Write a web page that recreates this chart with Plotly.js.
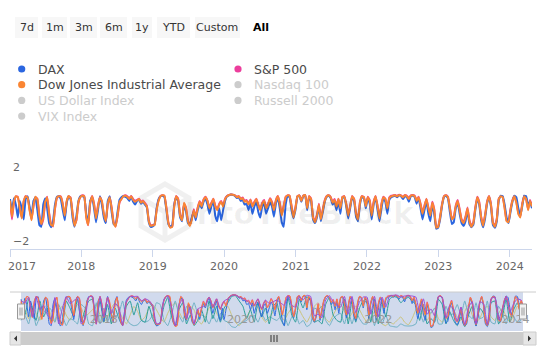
<!DOCTYPE html>
<html><head><meta charset="utf-8">
<script src="https://cdn.plot.ly/plotly-3.0.1.min.js"></script>
<style>html,body{margin:0;padding:0;background:#fff}#chart{width:546px;height:350px}</style>
</head><body><div id="chart"></div>
<script>
// ---- data (10-day samples from 2017-01-01) ----
const dow = [
0.62,-0.25,0.55,0.85,0.80,0.20,-0.35,0.60,0.85,0.78,0.10,-0.45,0.35,0.82,0.70,-0.20,-0.65,-0.30,0.55,0.80,-0.10,-0.70,-0.75,0.20,0.78,0.85,0.82,0.40,-0.20,0.60,0.86,0.75,-0.10,-0.75,-0.40,0.55,0.80,
0.88,0.85,-0.30,-0.70,0.50,0.85,0.40,-0.35,0.30,0.80,0.60,-0.10,-0.50,0.45,0.80,0.20,-0.60,-0.80,-0.20,0.55,0.70,0.85,0.88,0.82,0.70,0.85,0.65,0.55,0.62,0.70,0.50,0.60,0.45,0.30,-0.50,-0.75,
-0.72,-0.70,0.10,0.60,0.85,0.90,0.88,0.20,-0.60,-0.85,-0.80,0.30,0.85,0.70,-0.20,-0.45,0.50,0.20,-0.50,-0.75,-0.40,0.10,-0.30,0.20,0.55,0.30,0.65,0.80,0.60,0.20,0.45,0.70,0.30,0.10,0.40,0.55,0.30,
0.70,0.85,0.92,0.95,0.93,0.90,0.80,0.85,0.70,0.75,0.55,0.60,0.40,0.65,0.30,0.50,0.70,0.35,0.10,0.45,0.60,0.20,0.40,0.70,0.50,0.10,0.60,0.85,0.45,-0.20,0.30,0.80,0.90,0.88,0.30,-0.30,0.20,
0.85,0.90,0.60,0.88,0.92,0.20,0.85,0.70,-0.30,-0.55,-0.20,0.40,-0.40,0.10,0.60,0.85,0.90,0.80,0.50,0.65,0.30,0.70,0.20,0.80,0.85,0.40,-0.20,0.30,0.85,0.70,-0.10,-0.40,0.50,0.85,0.80,0.30,
0.80,0.60,-0.20,0.50,0.85,0.30,-0.35,0.40,0.80,0.70,0.20,0.75,0.85,0.88,0.90,0.85,0.92,0.88,0.80,0.90,0.85,0.70,0.88,0.90,0.85,0.60,0.80,0.40,-0.10,0.30,0.70,0.20,-0.20,0.50,0.10,-0.85,-0.80,
-0.30,0.40,0.85,0.90,0.80,0.20,-0.40,-0.30,0.30,0.60,0.10,-0.45,-0.60,-0.30,0.20,-0.50,-0.80,-0.60,0.20,0.80,0.50,-0.30,-0.75,-0.20,0.50,0.85,0.40,-0.60,-0.80,-0.40,0.70,0.85,0.80,0.20,-0.50,-0.55,
0.10,0.60,0.85,0.50,-0.10,-0.30,0.40,0.85,0.70,0.10,0.60,0.30];
const sp500 = [
0.55,-0.40,0.50,0.85,0.82,0.25,-0.30,0.55,0.86,0.80,0.15,-0.40,0.30,0.80,0.72,-0.15,-0.70,-0.40,0.50,0.82,-0.05,-0.65,-0.78,0.15,0.75,0.86,0.84,0.45,-0.25,0.55,0.85,0.78,-0.05,-0.70,-0.45,0.50,0.82,
0.90,0.86,-0.25,-0.72,0.45,0.86,0.45,-0.30,0.35,0.82,0.55,-0.15,-0.55,0.40,0.82,0.25,-0.55,-0.78,-0.25,0.50,0.72,0.86,0.90,0.85,0.75,0.86,0.70,0.60,0.65,0.72,0.55,0.62,0.50,0.35,-0.45,-0.72,
-0.70,-0.65,0.15,0.65,0.86,0.90,0.86,0.25,-0.55,-0.82,-0.78,0.35,0.86,0.72,-0.15,-0.40,0.45,0.25,-0.45,-0.72,-0.35,0.15,-0.25,0.25,0.60,0.35,0.68,0.82,0.62,0.25,0.50,0.72,0.35,0.15,0.45,0.60,0.35,
0.72,0.86,0.92,0.95,0.94,0.90,0.82,0.86,0.72,0.78,0.60,0.65,0.45,0.68,0.35,0.55,0.72,0.40,0.15,0.50,0.65,0.25,0.45,0.75,0.55,0.15,0.65,0.86,0.50,-0.15,0.35,0.82,0.90,0.88,0.35,-0.25,0.25,
0.86,0.90,0.65,0.88,0.92,0.25,0.86,0.72,-0.25,-0.50,-0.15,0.45,-0.35,0.15,0.65,0.86,0.90,0.82,0.55,0.70,0.35,0.72,0.25,0.82,0.86,0.45,-0.15,0.35,0.86,0.72,-0.05,-0.35,0.55,0.86,0.82,0.35,
0.82,0.65,-0.15,0.55,0.86,0.35,-0.30,0.45,0.82,0.72,0.25,0.78,0.88,0.90,0.92,0.88,0.93,0.90,0.82,0.92,0.88,0.75,0.90,0.92,0.88,0.65,0.82,0.45,-0.05,0.35,0.72,0.25,-0.15,0.55,0.15,-0.82,-0.78,
-0.25,0.45,0.86,0.90,0.82,0.25,-0.35,-0.25,0.35,0.65,0.15,-0.40,-0.55,-0.25,0.25,-0.45,-0.75,-0.55,0.25,0.82,0.55,-0.25,-0.70,-0.15,0.55,0.86,0.45,-0.55,-0.75,-0.35,0.72,0.86,0.82,0.25,-0.45,-0.50,
0.15,0.65,0.86,0.55,-0.05,-0.25,0.45,0.86,0.72,0.15,0.65,0.35];
const dax = [
0.70,0.10,0.75,0.40,-0.30,0.60,0.20,-0.40,0.70,0.85,0.30,-0.20,0.60,0.80,0.10,-0.70,-0.80,0.40,0.75,0.20,-0.60,-0.82,-0.50,0.40,0.82,0.85,0.70,0.10,-0.45,0.50,0.85,0.70,-0.30,-0.80,-0.20,0.60,0.85,
0.85,0.80,-0.10,-0.60,0.60,0.80,0.20,-0.55,0.10,0.85,0.40,-0.30,-0.60,0.60,0.85,0.00,-0.65,-0.70,0.00,0.65,0.80,0.85,0.82,0.75,0.60,0.82,0.55,0.40,0.60,0.65,0.45,0.55,0.40,0.25,-0.55,-0.80,
-0.78,-0.65,0.20,0.70,0.85,0.88,0.80,0.10,-0.65,-0.80,-0.70,0.40,0.80,0.60,-0.30,-0.50,0.40,0.05,-0.60,-0.70,-0.30,0.00,-0.45,0.10,0.45,0.20,0.55,0.75,0.40,-0.10,0.30,0.60,-0.20,-0.50,0.20,-0.45,0.10,
0.60,0.85,0.90,0.94,0.92,0.88,0.75,0.80,0.60,0.65,0.40,0.45,0.10,0.50,-0.10,0.30,0.55,0.00,-0.30,0.30,0.45,-0.10,0.20,0.55,0.30,-0.25,0.45,0.80,0.20,-0.55,-0.80,0.40,0.85,0.80,0.10,-0.35,0.10,
0.82,0.88,0.55,0.85,0.90,0.10,0.80,0.60,-0.40,-0.60,-0.30,0.30,-0.50,0.00,0.55,0.82,0.88,0.75,0.40,0.55,0.10,0.60,-0.10,0.75,0.82,0.30,-0.35,0.20,0.80,0.60,-0.25,-0.50,0.40,0.80,0.75,0.20,
0.75,0.45,-0.40,0.40,0.80,0.10,-0.50,0.20,0.75,0.55,-0.10,0.65,0.80,0.85,0.88,0.80,0.90,0.85,0.70,0.85,0.80,0.55,0.85,0.88,0.80,0.45,0.75,0.20,-0.40,0.10,0.60,-0.10,-0.50,0.40,-0.10,-0.90,-0.85,
-0.40,0.35,0.82,0.88,0.75,0.00,-0.65,-0.55,0.20,0.50,-0.10,-0.60,-0.75,-0.50,0.10,-0.65,-0.82,-0.70,0.10,0.75,0.40,-0.45,-0.82,-0.35,0.45,0.82,0.30,-0.70,-0.85,-0.50,0.65,0.88,0.85,0.40,-0.30,-0.60,
0.00,0.55,0.88,0.80,0.20,-0.20,0.30,0.88,0.85,0.40,0.55,0.20];
// hidden series (20-day samples), shown only in navigator
const nasdaq = [
0.60,0.50,0.80,-0.30,0.85,0.10,0.35,-0.20,-0.40,0.80,-0.70,0.20,0.85,0.45,0.60,0.80,-0.70,-0.40,0.82,
0.86,-0.70,0.85,-0.30,0.80,-0.10,0.45,0.25,-0.80,0.55,0.86,0.85,0.86,0.60,0.72,0.62,0.35,-0.70,
-0.65,0.65,0.90,0.25,-0.82,0.35,0.72,-0.40,0.25,-0.72,0.15,0.25,0.35,0.82,0.25,0.72,0.15,0.60,
0.72,0.92,0.94,0.82,0.72,0.60,0.45,0.35,0.72,0.15,0.65,0.45,0.55,0.65,0.50,0.35,0.90,0.35,0.25,
0.86,0.65,0.92,0.86,-0.25,-0.15,-0.35,0.65,0.90,0.55,0.35,0.25,0.86,-0.15,0.86,-0.05,0.55,0.82,
0.82,-0.15,0.86,-0.30,0.82,0.25,0.88,0.92,0.93,0.82,0.88,0.90,0.88,0.82,-0.05,0.72,-0.15,0.15,
-0.25,0.86,0.82,-0.35,0.35,0.15,-0.55,0.25,-0.75,0.25,0.55,-0.70,0.55,0.45,-0.75,0.72,0.82,-0.45,
0.15,0.86,-0.05,0.45,0.72,0.65];
const usdIndex = [
-0.20,0.10,-0.40,0.30,-0.10,-0.50,0.20,0.40,-0.30,-0.60,0.10,0.30,-0.20,-0.50,0.00,0.40,0.20,-0.30,-0.10,
0.10,0.40,-0.20,-0.60,-0.30,0.20,0.50,0.10,-0.40,-0.70,-0.20,0.30,0.00,-0.50,-0.30,0.20,0.40,0.10,
-0.30,-0.60,-0.10,0.30,0.50,0.00,-0.40,-0.20,0.30,0.10,-0.50,-0.70,-0.30,0.20,0.40,-0.10,-0.40,0.00,
0.30,-0.20,-0.60,-0.80,-0.50,-0.30,0.10,0.40,0.20,-0.30,-0.60,-0.40,0.00,0.30,-0.20,-0.50,-0.10,0.20,0.40,
0.10,-0.30,-0.60,-0.20,0.30,0.50,0.10,-0.40,-0.60,-0.20,0.20,0.40,0.00,-0.40,-0.10,0.30,0.10,-0.30,
-0.60,-0.40,0.00,-0.50,-0.70,-0.80,-0.60,-0.70,-0.50,-0.30,-0.60,-0.75,-0.40,0.10,0.30,-0.20,-0.50,-0.10,
0.20,-0.40,-0.60,-0.20,0.30,0.10,-0.30,-0.50,0.00,0.40,-0.20,-0.60,-0.40,0.10,0.30,-0.30,-0.50,-0.10,
0.20,-0.30,-0.60,-0.20,0.30,0.00];
const russell = [
0.40,-0.20,0.70,0.10,-0.50,0.60,-0.30,0.20,-0.60,0.50,-0.40,-0.70,0.60,0.20,-0.30,0.70,-0.60,0.10,0.60,
0.70,-0.50,0.60,-0.60,0.40,-0.70,0.20,-0.40,-0.80,0.30,0.60,-0.20,0.50,-0.50,-0.60,0.30,-0.40,-0.80,
-0.60,0.30,0.80,-0.30,-0.80,0.10,0.50,-0.70,-0.20,-0.80,-0.50,0.10,-0.60,0.60,-0.40,0.30,-0.60,0.20,
0.50,0.85,0.90,0.60,0.30,-0.40,0.10,-0.60,0.50,-0.30,0.20,-0.70,0.30,0.50,-0.40,-0.80,0.80,-0.20,-0.60,
0.70,0.20,0.85,0.60,-0.60,-0.50,-0.70,0.40,0.80,-0.20,-0.50,-0.60,0.70,-0.70,0.60,-0.60,0.20,0.60,
0.50,-0.60,0.70,-0.70,0.60,-0.30,0.70,0.85,0.80,0.50,0.70,0.80,0.60,0.40,-0.50,0.40,-0.70,-0.40,
-0.60,0.70,0.40,-0.70,0.00,-0.50,-0.80,-0.30,-0.85,-0.20,0.30,-0.80,0.20,-0.10,-0.80,0.50,0.60,-0.70,
-0.30,0.70,-0.60,0.10,0.50,-0.20];
const vix = [
-0.50,-0.20,-0.70,0.20,-0.80,-0.30,-0.10,0.30,0.10,-0.60,0.40,-0.20,-0.80,-0.40,-0.50,-0.70,0.40,0.20,-0.70,
-0.80,0.50,-0.70,0.20,-0.60,0.10,-0.30,-0.10,0.60,-0.40,-0.70,-0.80,-0.75,-0.50,-0.60,-0.50,-0.20,0.50,
0.40,-0.50,-0.80,-0.20,0.60,-0.20,-0.60,0.30,-0.10,0.50,-0.10,-0.20,-0.30,-0.70,-0.20,-0.60,-0.10,-0.50,
-0.60,-0.85,-0.90,-0.70,-0.60,-0.50,-0.30,-0.20,-0.60,-0.10,-0.50,-0.30,-0.40,-0.50,-0.30,-0.20,-0.80,-0.30,-0.10,
-0.70,-0.50,-0.85,-0.70,0.20,0.10,0.30,-0.50,-0.80,-0.40,-0.20,-0.10,-0.70,0.10,-0.70,0.00,-0.40,-0.70,
-0.70,0.10,-0.80,0.20,-0.70,-0.20,-0.80,-0.85,-0.88,-0.70,-0.80,-0.82,-0.80,-0.70,0.00,-0.60,0.10,-0.10,
0.20,-0.70,-0.70,0.30,-0.20,-0.10,0.40,-0.20,0.60,-0.20,-0.40,0.50,-0.40,-0.30,0.60,-0.60,-0.70,0.30,
-0.10,-0.70,0.00,-0.30,-0.60,-0.50];
const yearLabels = ['2017','2018','2019','2020','2021','2022','2023','2024'];
const navYearLabels = ['2018','2020','2022','2024'];
const rangeButtons = ['7d','1m','3m','6m','1y','YTD','Custom','All'];
const legendNames = ['DAX','S&P 500','Dow Jones Industrial Average','Nasdaq 100','US Dollar Index','Russell 2000','VIX Index'];
const legendVisible = [true,true,true,false,false,false,false];

// ---- helpers ----
const W=546,H=350, X=p=>p/W, Y=p=>1-p/H;
const DAY=86400000, START=Date.UTC(2017,0,1);
const dates=(n,step)=>Array.from({length:n},(_,i)=>new Date(START+i*step*DAY).toISOString().slice(0,10));
const C={dax:'#2b66e0',sp:'#ec3e9c',dow:'#fa8533',nas:'#9a4fd6',usd:'#cbc47c',rus:'#2c9e9a',vix:'#6fb1c4'};
const FONT='DejaVu Sans';

const d10=dates(dow.length,10), d20=dates(nasdaq.length,20);
const main=(y,c,name,xa)=>({x:d10.slice(0,y.length),y,name,type:'scatter',mode:'lines',line:{color:c,width:2,shape:'spline',smoothing:0.3},xaxis:xa,yaxis:'y',hoverinfo:'skip'});
const nav=(x,y,c)=>({x,y,type:'scatter',mode:'lines',line:{color:c,width:1,shape:'spline',smoothing:0.4},xaxis:'x2',yaxis:'y2',hoverinfo:'skip'});
const traces=[
 nav(d20,usdIndex,C.usd), nav(d20,vix,C.vix), nav(d20,russell,C.rus),
 nav(d10,dax,C.dax), nav(d10,sp500,C.sp), nav(d10,dow,C.dow), nav(d20,nasdaq,C.nas),
 main(sp500,C.sp,'S&P 500','x'), main(dax,C.dax,'DAX','x'), main(dow,C.dow,'Dow Jones Industrial Average','x3')
];

const shapes=[], ann=[];
// range selector buttons
const btnPos=[[15,38],[42,67],[70,97],[100,127],[132,152],[157,190],[195,240],[252,270]];
rangeButtons.forEach((b,i)=>{
  const [a,z]=btnPos[i];
  if(b!=='All') shapes.push({type:'rect',xref:'paper',yref:'paper',x0:X(a),x1:X(z),y0:Y(38),y1:Y(17),fillcolor:'#f7f7f7',line:{width:0}});
  ann.push({xref:'paper',yref:'paper',x:X((a+z)/2),y:Y(27.5),text:b==='All'?'<b>All</b>':b,showarrow:false,xanchor:'center',yanchor:'middle',
    font:{family:FONT,size:11,color:b==='All'?'#000':'#333'}});
});
// legend
const legColors=[C.dax,C.sp,C.dow,'#ccc','#ccc','#ccc','#ccc'];
legendNames.forEach((n,i)=>{
  const col=i%2, row=Math.floor(i/2);
  const dx=col?238:21.7, tx=col?252:36, cy=69+row*15.7;
  shapes.push({type:'circle',xref:'paper',yref:'paper',x0:X(dx-3.6),x1:X(dx+3.6),y0:Y(cy+3.6),y1:Y(cy-3.6),fillcolor:legColors[i],line:{width:0}});
  ann.push({xref:'paper',yref:'paper',x:X(tx),y:Y(cy),text:n.replace('&','&amp;'),showarrow:false,xanchor:'left',yanchor:'middle',
    font:{family:FONT,size:12.5,color:legendVisible[i]?'#4a4a4a':'#ccc'}});
});
// watermark
const wm='rgba(0,0,0,0.06)';
shapes.push({type:'path',xref:'paper',yref:'paper',layer:'below',line:{color:wm,width:5},
  path:`M${X(165)},${Y(184)} L${X(189)},${Y(198)} L${X(189)},${Y(226)} L${X(165)},${Y(240)} L${X(141)},${Y(226)} L${X(141)},${Y(198)} Z M${X(141)},${Y(198)} L${X(165)},${Y(212)} L${X(189)},${Y(198)} M${X(165)},${Y(212)} L${X(165)},${Y(240)}`});
ann.push({xref:'paper',yref:'paper',x:X(300),y:Y(213),text:'<b>IntoTheBlock</b>',showarrow:false,xanchor:'center',yanchor:'middle',font:{family:FONT,size:31,color:'rgba(0,0,0,0.06)'}});
// navigator mask & outline
shapes.push({type:'rect',xref:'paper',yref:'paper',layer:'below',x0:X(21),x1:X(523),y0:Y(331),y1:Y(292),fillcolor:'rgba(102,133,194,0.3)',line:{width:0}});
shapes.push({type:'line',xref:'paper',yref:'paper',x0:X(10),x1:X(536),y0:Y(292),y1:Y(292),line:{color:'#cccccc',width:1}});
[21,523].forEach(cx=>{
  shapes.push({type:'rect',xref:'paper',yref:'paper',x0:X(cx-3.5),x1:X(cx+3.5),y0:Y(319),y1:Y(304),fillcolor:'#f2f2f2',line:{color:'#999',width:1}});
  [cx-1,cx+1].forEach(lx=>shapes.push({type:'line',xref:'paper',yref:'paper',x0:X(lx),x1:X(lx),y0:Y(315.5),y1:Y(307.5),line:{color:'#999',width:1}}));
});
// scrollbar
shapes.push({type:'rect',xref:'paper',yref:'paper',x0:X(10),x1:X(536),y0:Y(345),y1:Y(332),fillcolor:'#cccccc',line:{width:0}});
shapes.push({type:'rect',xref:'paper',yref:'paper',x0:X(10),x1:X(21),y0:Y(345),y1:Y(332),fillcolor:'#e6e6e6',line:{color:'#cccccc',width:1}});
shapes.push({type:'rect',xref:'paper',yref:'paper',x0:X(523),x1:X(536),y0:Y(345),y1:Y(332),fillcolor:'#e6e6e6',line:{color:'#cccccc',width:1}});
shapes.push({type:'path',xref:'paper',yref:'paper',fillcolor:'#333',line:{width:0},path:`M${X(17)},${Y(335.5)} L${X(14)},${Y(338.5)} L${X(17)},${Y(341.5)} Z`});
shapes.push({type:'path',xref:'paper',yref:'paper',fillcolor:'#333',line:{width:0},path:`M${X(528)},${Y(335.5)} L${X(531)},${Y(338.5)} L${X(528)},${Y(341.5)} Z`});
[271,274,277].forEach(lx=>shapes.push({type:'line',xref:'paper',yref:'paper',x0:X(lx),x1:X(lx),y0:Y(342),y1:Y(335),line:{color:'#333',width:1}}));

const yearTicks=yearLabels.map(y=>y+'-01-01');
const MAINRANGE=['2017-01-01','2024-04-24'];
const layout={
  width:W,height:H,margin:{l:0,r:0,t:0,b:0},paper_bgcolor:'#fff',plot_bgcolor:'rgba(0,0,0,0)',showlegend:false,
  font:{family:FONT,color:'#666'},
  xaxis:{domain:[X(10),X(532)],anchor:'y',type:'date',range:MAINRANGE,tickmode:'array',tickvals:yearTicks,
    ticktext:yearLabels.map((t,i)=>i===0?'':t),ticks:'outside',ticklen:7,tickcolor:'#ccd6eb',showline:true,linecolor:'#ccd6eb',
    showgrid:false,zeroline:false,tickfont:{family:FONT,size:11,color:'#666'},fixedrange:true},
  // twin axis carrying the first year label, nudged right as in the original
  xaxis3:{domain:[X(10),X(532)],anchor:'y',overlaying:'x',side:'bottom',type:'date',range:MAINRANGE,tickmode:'array',tickvals:[yearTicks[0]],
    ticktext:[yearLabels[0]],ticklabelshift:12,ticks:'outside',ticklen:7,tickcolor:'rgba(0,0,0,0)',showline:false,showgrid:false,zeroline:false,
    ticklabeloverflow:'allow',tickfont:{family:FONT,size:11,color:'#666'},fixedrange:true},
  yaxis:{domain:[Y(249),Y(175)],anchor:'x',range:[-2,2],tickmode:'linear',tick0:-2,dtick:4,ticklabelposition:'inside top',ticklabeloverflow:'allow',
    showgrid:true,gridcolor:'#e6e6e6',zeroline:false,showline:false,tickfont:{family:FONT,size:11,color:'#666'},fixedrange:true},
  xaxis2:{domain:[X(10),X(536)],anchor:'y2',type:'date',range:['2016-11-03','2024-07-02'],tickmode:'array',tickvals:navYearLabels.map(y=>y+'-01-01'),
    ticktext:navYearLabels,ticklabelposition:'inside right',ticklabeloverflow:'allow',showgrid:true,gridcolor:'#d9dde8',zeroline:false,showline:false,ticks:'',
    tickfont:{family:FONT,size:11,color:'#999'},fixedrange:true},
  yaxis2:{domain:[Y(331),Y(293)],anchor:'x2',range:[-1.1,1.05],showticklabels:false,showgrid:false,zeroline:false,showline:false,fixedrange:true},
  shapes,annotations:ann
};
Plotly.newPlot('chart',traces,layout,{displayModeBar:false,staticPlot:true});
</script></body></html>
